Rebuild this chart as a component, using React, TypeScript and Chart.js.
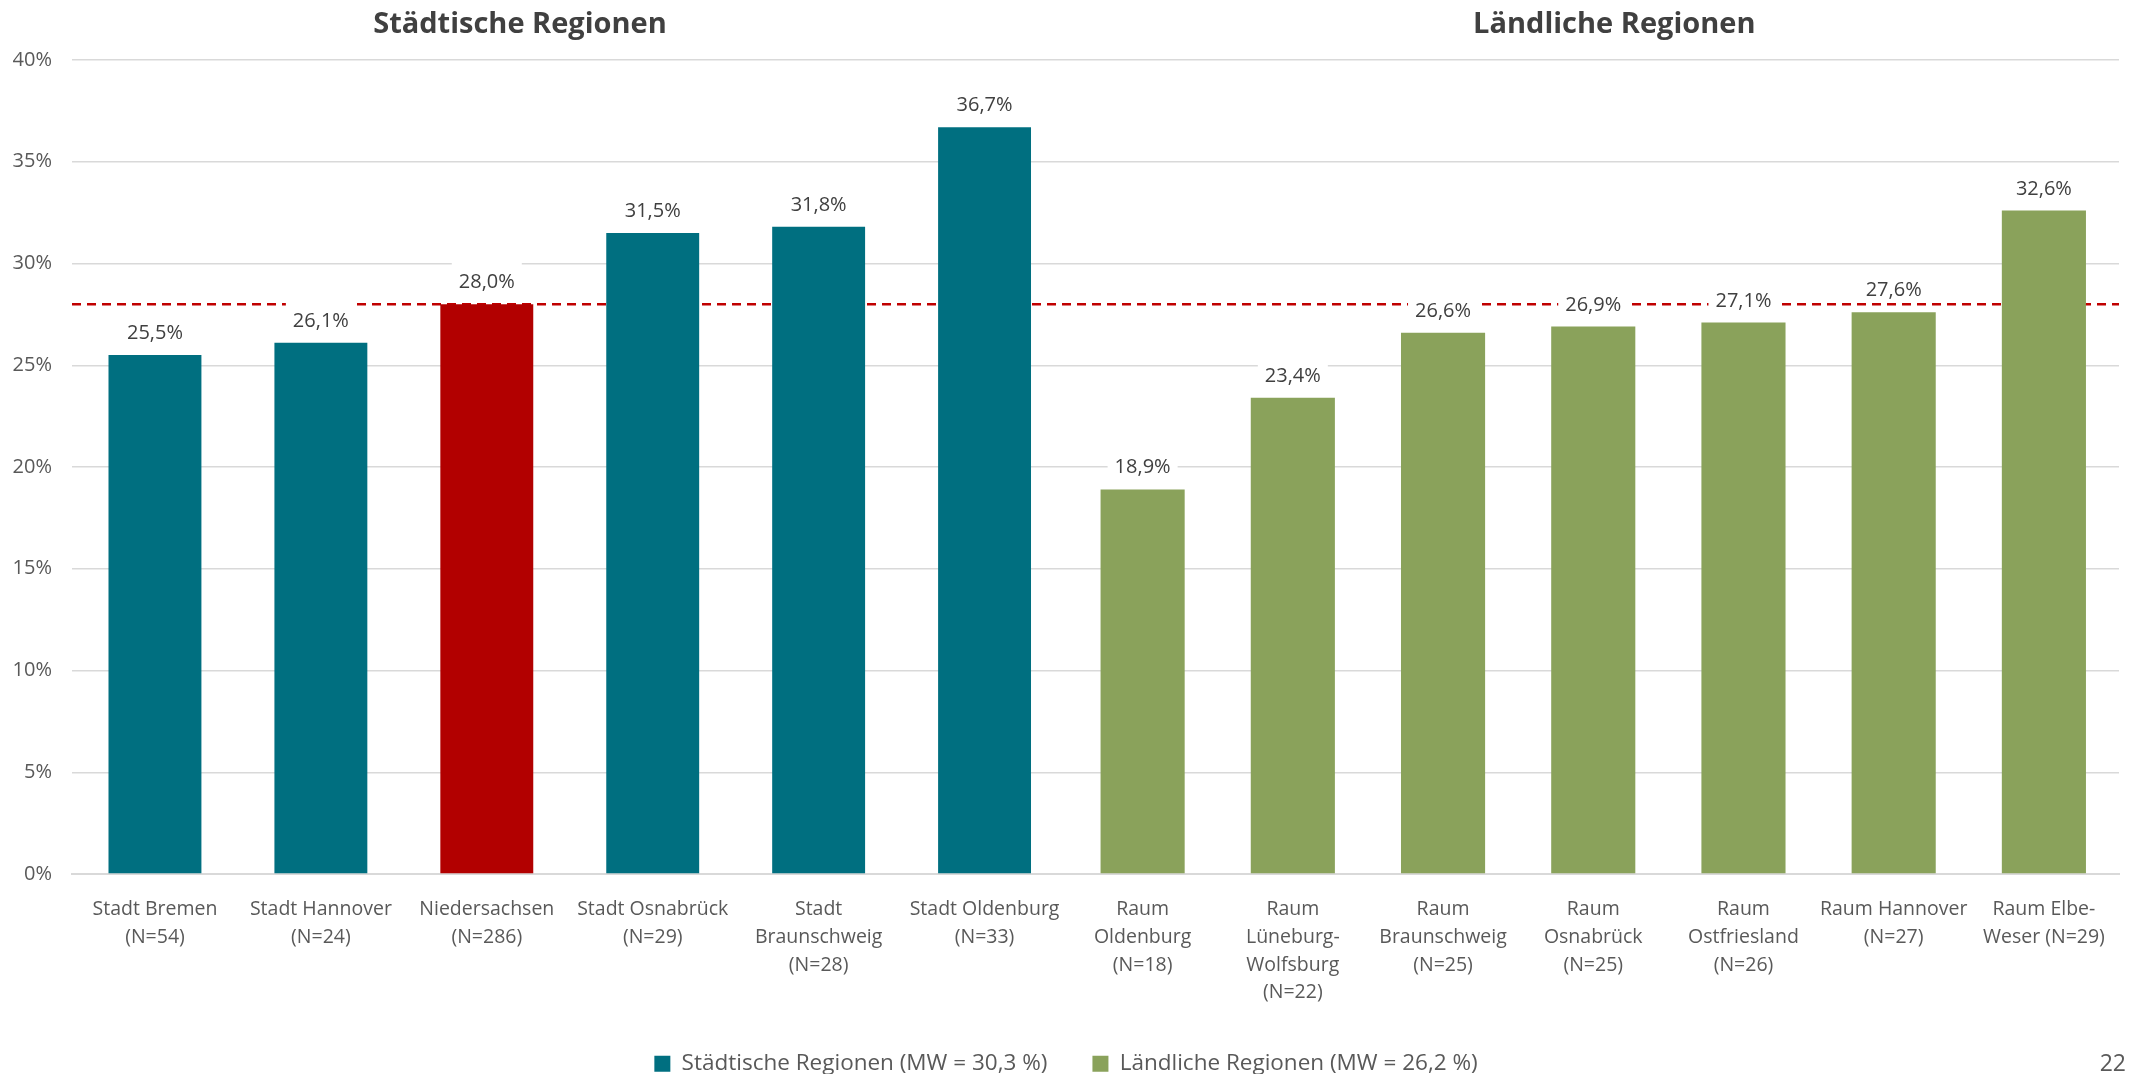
import React, { useEffect, useRef } from "react";
import { Chart, registerables } from "chart.js";

Chart.register(...registerables);

// ---------- data ----------
const URBAN_LABELS: string[][] = [
  ["Stadt Bremen", "(N=54)"],
  ["Stadt Hannover", "(N=24)"],
  ["Niedersachsen", "(N=286)"],
  ["Stadt Osnabrück", "(N=29)"],
  ["Stadt", "Braunschweig", "(N=28)"],
  ["Stadt Oldenburg", "(N=33)"],
];
const URBAN_VALUES: number[] = [25.5, 26.1, 28.0, 31.5, 31.8, 36.7];

const RURAL_LABELS: string[][] = [
  ["Raum", "Oldenburg", "(N=18)"],
  ["Raum", "Lüneburg-", "Wolfsburg", "(N=22)"],
  ["Raum", "Braunschweig", "(N=25)"],
  ["Raum", "Osnabrück", "(N=25)"],
  ["Raum", "Ostfriesland", "(N=26)"],
  ["Raum Hannover", "(N=27)"],
  ["Raum Elbe-", "Weser (N=29)"],
];
const RURAL_VALUES: number[] = [18.9, 23.4, 26.6, 26.9, 27.1, 27.6, 32.6];

const HIGHLIGHT_CATEGORY = "Niedersachsen";
const REFERENCE_VALUE = 28.0; // Niedersachsen average (dashed line)

const LEGEND_LABELS: string[] = [
  "Städtische Regionen (MW = 30,3 %)",
  "Ländliche Regionen (MW = 26,2 %)",
];
const GROUP_TITLES: string[] = ["Städtische Regionen", "Ländliche Regionen"];
const PAGE_NUMBER = "22";

const Y_MIN = 0;
const Y_MAX = 40;
const Y_STEP = 5;

// ---------- styles ----------
const TEAL = "#006F80";
const RED = "#B20000";
const GREEN = "#8AA25B";
const DASH_RED = "#C00000";
const GRID = "#d9d9d9";
const TEXT_DARK = "#404040";
const TEXT_MID = "#595959";
const FONT = '"Open Sans", "Noto Sans", sans-serif';

const fmt = (v: number) => v.toFixed(1).replace(".", ",") + "%";

const overlayPlugin = {
  id: "overlay",
  beforeDatasetsDraw(chart: any) {
    const { ctx, chartArea, scales } = chart;
    const y = scales.y.getPixelForValue(REFERENCE_VALUE);
    ctx.save();
    ctx.strokeStyle = DASH_RED;
    ctx.lineWidth = 2.5;
    ctx.setLineDash([9, 6]);
    ctx.beginPath();
    ctx.moveTo(chartArea.left, y);
    ctx.lineTo(chartArea.right, y);
    ctx.stroke();
    ctx.restore();
  },
  afterDatasetsDraw(chart: any) {
    const { ctx } = chart;
    ctx.save();
    ctx.font = `20px ${FONT}`;
    ctx.textAlign = "center";
    ctx.textBaseline = "alphabetic";
    chart.data.datasets.forEach((ds: any, di: number) => {
      const meta = chart.getDatasetMeta(di);
      meta.data.forEach((el: any, i: number) => {
        const text = fmt(ds.data[i]);
        const w = ctx.measureText(text).width;
        const base = el.y - 16;
        ctx.fillStyle = "#ffffff";
        ctx.fillRect(el.x - w / 2 - 7, base - 28, w + 14, 34);
        ctx.fillStyle = TEXT_DARK;
        ctx.fillText(text, el.x, base);
      });
    });
    ctx.restore();
  },
  afterDraw(chart: any) {
    const { ctx, scales, width } = chart;
    ctx.save();
    ctx.font = `bold 29px ${FONT}`;
    ctx.fillStyle = TEXT_DARK;
    ctx.textAlign = "center";
    ctx.textBaseline = "alphabetic";
    const x1 = scales.x1;
    const x2 = scales.x2;
    ctx.fillText(GROUP_TITLES[0], x1.left + (x1.right - x1.left) * 0.45, 33);
    ctx.fillText(GROUP_TITLES[1], x2.left + (x2.right - x2.left) * 0.52, 33);
    ctx.font = `23px ${FONT}`;
    ctx.fillStyle = TEXT_MID;
    ctx.textAlign = "right";
    ctx.fillText(PAGE_NUMBER, width - 5, 1071);
    ctx.restore();
  },
};

const xTicks = {
  color: TEXT_MID,
  font: { size: 19.5, family: FONT, lineHeight: 1.42 },
  padding: 14,
  maxRotation: 0,
  minRotation: 0,
  autoSkip: false,
};

const fitXAxis = (s: any) => {
  s.height = 133.5;
  s.paddingLeft = 0;
  s.paddingRight = 0;
};

export default function App() {
  const ref = useRef<HTMLCanvasElement | null>(null);

  useEffect(() => {
    if (!ref.current) return;
    Chart.defaults.font.family = FONT;
    const urbanColors = URBAN_LABELS.map((l) => (l[0] === HIGHLIGHT_CATEGORY ? RED : TEAL));
    const legendColors = [TEAL, GREEN];

    const chart = new Chart(ref.current, {
      type: "bar",
      data: {
        datasets: [
          {
            label: LEGEND_LABELS[0],
            data: URBAN_VALUES,
            xAxisID: "x1",
            yAxisID: "y",
            backgroundColor: urbanColors,
            borderWidth: 0,
            grouped: false,
            barPercentage: 0.56,
            categoryPercentage: 1,
          },
          {
            label: LEGEND_LABELS[1],
            data: RURAL_VALUES,
            xAxisID: "x2",
            yAxisID: "y",
            backgroundColor: GREEN,
            borderWidth: 0,
            grouped: false,
            barPercentage: 0.56,
            categoryPercentage: 1,
          },
        ],
      },
      options: {
        responsive: false,
        animation: false,
        layout: { padding: { left: 13, right: 12, top: 60, bottom: -11 } },
        plugins: {
          tooltip: { enabled: false },
          legend: {
            position: "bottom",
            labels: {
              boxWidth: 16,
              boxHeight: 16,
              padding: 45,
              color: TEXT_MID,
              font: { size: 22.5, family: FONT },
              generateLabels: () =>
                LEGEND_LABELS.map((text, i) => ({
                  text,
                  fillStyle: legendColors[i],
                  strokeStyle: legendColors[i],
                  lineWidth: 0,
                  hidden: false,
                  datasetIndex: i,
                  fontColor: TEXT_MID,
                })),
            },
          },
        },
        scales: {
          x1: {
            type: "category",
            labels: URBAN_LABELS as any,
            position: "bottom",
            stack: "xs",
            stackWeight: 996,
            offset: true,
            grid: { display: false },
            border: { display: true, color: GRID, width: 2 },
            ticks: xTicks,
            afterFit: fitXAxis,
          },
          x2: {
            type: "category",
            labels: RURAL_LABELS as any,
            position: "bottom",
            stack: "xs",
            stackWeight: 1052,
            offset: true,
            grid: { display: false },
            border: { display: true, color: GRID, width: 2 },
            ticks: xTicks,
            afterFit: fitXAxis,
          },
          y: {
            min: Y_MIN,
            max: Y_MAX,
            border: { display: false },
            grid: { color: GRID, lineWidth: 1.5, drawTicks: false },
            ticks: {
              stepSize: Y_STEP,
              padding: 20,
              color: TEXT_MID,
              font: { size: 20, family: FONT },
              callback: (v: any) => `${v}%`,
            },
            afterFit: (s: any) => {
              s.width = 59;
            },
          },
        },
      } as any,
      plugins: [overlayPlugin],
    });
    return () => chart.destroy();
  }, []);

  return (
    <div style={{ position: "fixed", left: 0, top: 0, width: 2131, height: 1074, background: "#fff" }}>
      <canvas ref={ref} width={2131} height={1074} style={{ display: "block", width: 2131, height: 1074 }} />
    </div>
  );
}
